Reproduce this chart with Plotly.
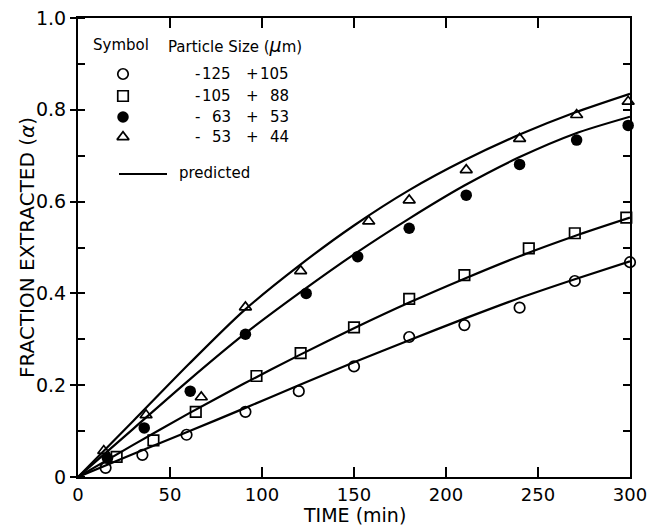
import plotly.graph_objects as go

# ---- data ----
time_c125 = [15, 35, 59, 91, 120, 150, 180, 210, 240, 270, 300]
frac_c125 = [0.020, 0.048, 0.092, 0.142, 0.187, 0.241, 0.305, 0.331, 0.369, 0.427, 0.468]

time_c105 = [21, 41, 64, 97, 121, 150, 180, 210, 245, 270, 298]
frac_c105 = [0.044, 0.080, 0.142, 0.220, 0.270, 0.326, 0.388, 0.440, 0.498, 0.531, 0.565]

time_c63 = [16, 36, 61, 91, 124, 152, 180, 211, 240, 271, 299]
frac_c63 = [0.041, 0.107, 0.187, 0.311, 0.400, 0.480, 0.542, 0.614, 0.681, 0.734, 0.766]

time_c53 = [14, 37, 67, 91, 121, 158, 180, 211, 240, 271, 299]
frac_c53 = [0.057, 0.135, 0.174, 0.370, 0.449, 0.557, 0.603, 0.669, 0.737, 0.789, 0.818]

time_pred = [0, 30, 60, 90, 120, 150, 180, 210, 240, 270, 300]
pred_c125 = [0, 0.050, 0.099, 0.149, 0.200, 0.250, 0.298, 0.345, 0.390, 0.431, 0.470]
pred_c105 = [0, 0.070, 0.138, 0.203, 0.265, 0.324, 0.380, 0.432, 0.481, 0.525, 0.565]
pred_c63 = [0, 0.105, 0.210, 0.310, 0.400, 0.485, 0.563, 0.635, 0.697, 0.748, 0.785]
pred_c53 = [0, 0.122, 0.245, 0.362, 0.460, 0.548, 0.625, 0.690, 0.746, 0.794, 0.835]

x_ticks = [0, 50, 100, 150, 200, 250, 300]
y_label_alias = {"1": "1.0"}

legend_rows = [("125", "105"), ("105", "88"), ("63", "53"), ("53", "44")]

FONT = "DejaVu Sans"
BLACK = "black"

fig = go.Figure()

for p in [pred_c125, pred_c105, pred_c63, pred_c53]:
    fig.add_trace(go.Scatter(x=time_pred, y=p, mode="lines",
                             line=dict(color=BLACK, width=2.2, shape="spline", smoothing=0.8),
                             showlegend=False, hoverinfo="skip"))

styles = [
    dict(symbol="circle-open", size=10.5, color=BLACK, line=dict(width=1.7, color=BLACK)),
    dict(symbol="square-open", size=10.5, color=BLACK, line=dict(width=1.7, color=BLACK)),
    dict(symbol="circle", size=11.5, color=BLACK, line=dict(width=0, color=BLACK)),
    dict(symbol="triangle-up-open", size=10.5, color=BLACK, line=dict(width=1.7, color=BLACK)),
]
series = [(time_c125, frac_c125), (time_c105, frac_c105), (time_c63, frac_c63), (time_c53, frac_c53)]
for (t, f), st in zip(series, styles):
    fig.add_trace(go.Scatter(x=t, y=f, mode="markers", marker=st, cliponaxis=False, showlegend=False))

# ---- in-plot key ----
L, R, T, B = 78, 630, 18, 477
def px(xp):
    return (xp - L) / (R - L)
def py(yp):
    return (B - yp) / (B - T)

ann = []
ann.append(dict(x=px(91), y=py(45), text="Symbol", xanchor="left", yanchor="middle"))
ann.append(dict(x=px(166), y=py(45), text="Particle Size (<i><span style='font-size:19px'>μ</span></i>m)",
                xanchor="left", yanchor="middle"))
row_y = [74, 96, 117, 137]
for (a, b), yy, st in zip(legend_rows, row_y, styles):
    fig.add_trace(go.Scatter(x=[px(123)], y=[py(yy)], xaxis="x2", yaxis="y2", mode="markers",
                             marker=st, showlegend=False, hoverinfo="skip", cliponaxis=False))
    ann.append(dict(x=px(193), y=py(yy), text="-", xanchor="left", yanchor="middle"))
    ann.append(dict(x=px(233), y=py(yy), text=a, xanchor="right", yanchor="middle"))
    ann.append(dict(x=px(244), y=py(yy), text="+", xanchor="left", yanchor="middle"))
    ann.append(dict(x=px(291), y=py(yy), text=b, xanchor="right", yanchor="middle"))
fig.add_trace(go.Scatter(x=[px(119), px(167)], y=[py(174), py(174)], xaxis="x2", yaxis="y2", mode="lines",
                         line=dict(color=BLACK, width=2.2), showlegend=False, hoverinfo="skip"))
ann.append(dict(x=px(177), y=py(173), text="predicted", xanchor="left", yanchor="middle"))
for a in ann:
    a.update(xref="paper", yref="paper", showarrow=False, font=dict(family=FONT, size=15, color=BLACK))

# axis titles
ann.append(dict(x=px(354), y=py(515), xref="paper", yref="paper", text="TIME (min)", showarrow=False,
                xanchor="center", yanchor="middle", font=dict(family=FONT, size=19, color=BLACK)))
ann.append(dict(x=px(27), y=py(248), xref="paper", yref="paper", text="FRACTION EXTRACTED (<i>α</i>)",
                showarrow=False, textangle=-90, xanchor="center", yanchor="middle",
                font=dict(family=FONT, size=20, color=BLACK)))

fig.update_layout(
    width=649, height=526,
    margin=dict(l=L, r=649 - R, t=T, b=526 - B, autoexpand=False),
    paper_bgcolor="white", plot_bgcolor="white",
    annotations=ann,
    xaxis=dict(range=[0, 300], tickvals=x_ticks, ticks="inside", ticklen=10,
               tickwidth=1.5, tickcolor=BLACK, showline=True, linecolor=BLACK, linewidth=2, mirror="ticks",
               showgrid=False, zeroline=False, tickfont=dict(family=FONT, size=18, color=BLACK)),
    yaxis=dict(range=[0, 1.0], tick0=0, dtick=0.2, labelalias=y_label_alias, ticks="outside", ticklen=6,
               tickwidth=1.5, tickcolor=BLACK, showline=True, linecolor=BLACK, linewidth=2, mirror=True,
               showgrid=False, zeroline=False, tickfont=dict(family=FONT, size=19, color=BLACK),
               minor=dict(dtick=0.1, tick0=0, ticks="inside", ticklen=7, tickwidth=1.5, tickcolor=BLACK,
                          showgrid=False)),
    yaxis3=dict(range=[0, 1.0], overlaying="y", side="right", tick0=0, dtick=0.1, ticks="inside",
                ticklen=7, tickwidth=1.5, tickcolor=BLACK, showticklabels=False, showline=False,
                showgrid=False, zeroline=False),
    xaxis2=dict(range=[0, 1], overlaying="x", visible=False),
    yaxis2=dict(range=[0, 1], overlaying="y", visible=False),
)

# invisible trace to activate the right-hand tick axis
fig.add_trace(go.Scatter(x=[0], y=[0], yaxis="y3", mode="markers", marker=dict(opacity=0),
                         showlegend=False, hoverinfo="skip"))

fig.write_html("out.html")
